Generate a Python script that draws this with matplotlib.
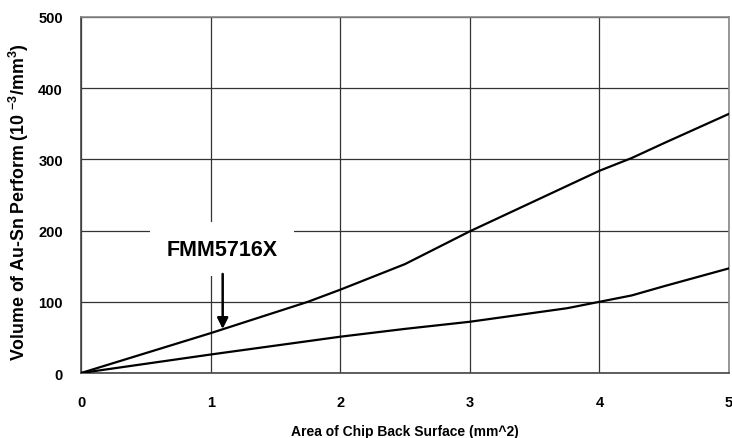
import matplotlib.pyplot as plt

plt.rcParams['font.family'] = ['Liberation Sans', 'DejaVu Sans']
plt.rcParams['font.weight'] = 'bold'
plt.rcParams['mathtext.fontset'] = 'custom'
plt.rcParams['mathtext.rm'] = 'Liberation Sans:bold'
plt.rcParams['mathtext.bf'] = 'Liberation Sans:bold'
plt.rcParams['mathtext.default'] = 'bf'

# data
upper_x = [0, 1, 1.75, 2, 2.5, 3, 4, 4.25, 4.5, 5]
upper_y = [0, 56, 100, 117, 153, 199, 284, 302, 323, 364]
lower_x = [0, 1, 2, 2.5, 3, 3.75, 4, 4.25, 4.5, 5]
lower_y = [0, 26, 51, 62, 72, 91, 100, 109, 122, 147]

x_ticks = [0, 1, 2, 3, 4, 5]
y_ticks = [0, 100, 200, 300, 400, 500]

fig = plt.figure(figsize=(7.32, 4.39), dpi=100)
ax = fig.add_axes([0.1107, 0.148, 0.8852, 0.811])

ax.plot(upper_x, upper_y, color='black', lw=1.6, zorder=3)
ax.plot(lower_x, lower_y, color='black', lw=1.6, zorder=3)

ax.set_xlim(0, 5)
ax.set_ylim(0, 500)
ax.set_xticks(x_ticks)
ax.set_yticks(y_ticks)
ax.grid(True, color='#333333', lw=0.9)
ax.set_axisbelow(True)
ax.tick_params(length=0, labelsize=10.5)
ax.tick_params(axis='x', pad=16)
ax.tick_params(axis='y', pad=13)

ax.spines['left'].set_color('#444444')
ax.spines['bottom'].set_color('#444444')
ax.spines['right'].set_color('#888888')
ax.spines['top'].set_color('#888888')
for s in ax.spines.values():
    s.set_linewidth(1.2)

ax.set_xlabel('Area of Chip Back Surface (mm^2)', fontsize=10, fontweight='bold')
ax.set_ylabel(r'Volume of Au-Sn Perform (10 $^{-3}$/mm$^{3}$)', fontsize=12.8, fontweight='bold')
ax.xaxis.set_label_coords(0.5, -0.142)
ax.yaxis.set_label_coords(-0.077, 0.483)

# label with white box hiding the grid, arrow pointing at the upper curve
ax.text(1.09, 174, 'FMM5716X', fontsize=15.5, fontweight='bold', ha='center', va='center',
        bbox=dict(facecolor='white', edgecolor='none', pad=12), zorder=4)
ax.annotate('', xy=(1.093, 58), xytext=(1.093, 143),
            arrowprops=dict(arrowstyle='-|>', color='black', lw=1.8, mutation_scale=16), zorder=5)

fig.savefig('out.png', dpi=100)
